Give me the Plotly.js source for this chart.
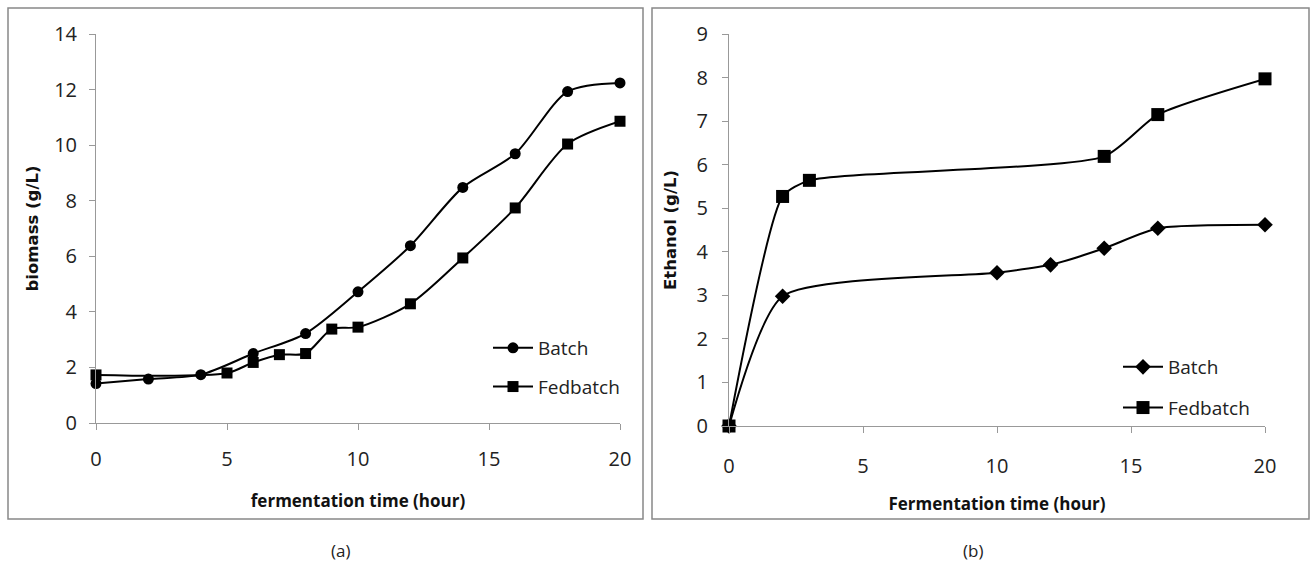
<!DOCTYPE html>
<html>
<head>
<meta charset="utf-8">
<script src="https://cdn.plot.ly/plotly-3.0.1.min.js"></script>
<style>
html,body{margin:0;padding:0;background:#fff;}
#chart{width:1311px;height:565px;}
</style>
</head>
<body>
<div id="chart"></div>
<script>
// Panel (a): biomass
const biomassBatchTime = [0, 2, 4, 6, 8, 10, 12, 14, 16, 18, 20];
const biomassBatch     = [1.42, 1.58, 1.74, 2.5, 3.22, 4.72, 6.38, 8.48, 9.69, 11.93, 12.24];
const biomassFedTime   = [0, 5, 6, 7, 8, 9, 10, 12, 14, 16, 18, 20];
const biomassFed       = [1.73, 1.8, 2.18, 2.46, 2.5, 3.38, 3.45, 4.29, 5.94, 7.74, 10.04, 10.86];
// Panel (b): ethanol
const ethanolBatchTime = [0, 2, 10, 12, 14, 16, 20];
const ethanolBatch     = [0, 2.98, 3.52, 3.70, 4.08, 4.54, 4.62];
const ethanolFedTime   = [0, 2, 3, 14, 16, 20];
const ethanolFed       = [0, 5.27, 5.64, 6.19, 7.15, 7.97];
const seriesNames = ["Batch", "Fedbatch"];
const xTicks = [0, 5, 10, 15, 20];
const yTicksA = [0, 2, 4, 6, 8, 10, 12, 14];
const yTicksB = [0, 1, 2, 3, 4, 5, 6, 7, 8, 9];

const W = 1311, H = 565;
const px = v => v / W;
const py = v => 1 - v / H;

const baseFamily = "Open Sans, Noto Sans, sans-serif";
const tickFont = {family: baseFamily, size: 20, color: "#222"};
const xTitleFont = {family: baseFamily, size: 17, color: "#111", weight: "bold"};
const yTitleFont = {family: "DejaVu Sans, Verdana, sans-serif", size: 16.5, color: "#111", weight: "bold"};
const lineA = {color: "#000", width: 2, shape: "spline", smoothing: 0.8};
const lineB = {color: "#000", width: 2, shape: "spline", smoothing: 0.6};

const traces = [
  {x: biomassBatchTime, y: biomassBatch, name: seriesNames[0], xaxis: "x", yaxis: "y", legend: "legend",
   mode: "lines+markers", line: lineA, marker: {symbol: "circle", size: 11, color: "#000"}, cliponaxis: false, legendgroup: "a1"},
  {x: biomassFedTime, y: biomassFed, name: seriesNames[1], xaxis: "x", yaxis: "y", legend: "legend",
   mode: "lines+markers", line: lineA, marker: {symbol: "square", size: 11, color: "#000"}, cliponaxis: false, legendgroup: "a2"},
  {x: ethanolBatchTime, y: ethanolBatch, name: seriesNames[0], xaxis: "x2", yaxis: "y2", legend: "legend2",
   mode: "lines+markers", line: lineB, marker: {symbol: "diamond", size: 12, color: "#000"}, cliponaxis: false, legendgroup: "b1"},
  {x: ethanolFedTime, y: ethanolFed, name: seriesNames[1], xaxis: "x2", yaxis: "y2", legend: "legend2",
   mode: "lines+markers", line: lineB, marker: {symbol: "square", size: 13, color: "#000"}, cliponaxis: false, legendgroup: "b2"}
];

function xAxis(domain, title, anchor, lblStandoff, titleStandoff) {
  return {
    domain: domain, range: [0, 20], anchor: anchor, tickvals: xTicks, ticks: "outside", ticklen: 6,
    tickcolor: "#999", showline: true, linecolor: "#999", linewidth: 1, showgrid: false, zeroline: false,
    tickfont: tickFont, ticklabelstandoff: lblStandoff,
    title: {text: title, font: xTitleFont, standoff: titleStandoff}, automargin: false, fixedrange: true
  };
}
function yAxis(domain, range, ticks, title, anchor, lblStandoff, titleStandoff) {
  return {
    domain: domain, range: range, anchor: anchor, tickvals: ticks, ticks: "outside", ticklen: 6,
    tickcolor: "#999", showline: true, linecolor: "#999", linewidth: 1, showgrid: false, zeroline: false,
    tickfont: tickFont, ticklabelstandoff: lblStandoff,
    title: {text: title, font: yTitleFont, standoff: titleStandoff}, automargin: false, fixedrange: true
  };
}

const legendFont = {family: baseFamily, size: 19, color: "#222"};

const layout = {
  width: W, height: H,
  margin: {l: 0, r: 0, t: 0, b: 0, autoexpand: false},
  paper_bgcolor: "#fff", plot_bgcolor: "#fff",
  xaxis: xAxis([px(96), px(620)], "fermentation time (hour)", "y", 12, 24),
  yaxis: yAxis([py(423), py(34)], [0, 14], yTicksA, "biomass (g/L)", "x", 8, 11),
  xaxis2: xAxis([px(729), px(1265)], "Fermentation time (hour)", "y2", 16, 20),
  yaxis2: yAxis([py(426), py(34)], [0, 9], yTicksB, "Ethanol (g/L)", "x2", 10, 15),
  legend: {x: px(488), y: py(329), xanchor: "left", yanchor: "top", font: legendFont,
           bgcolor: "rgba(0,0,0,0)", tracegroupgap: 11, traceorder: "grouped", itemwidth: 40},
  legend2: {x: px(1118), y: py(348), xanchor: "left", yanchor: "top", font: legendFont,
           bgcolor: "rgba(0,0,0,0)", tracegroupgap: 13, traceorder: "grouped", itemwidth: 40},
  shapes: [
    {type: "rect", xref: "paper", yref: "paper", x0: px(8), x1: px(643), y0: py(519), y1: py(8),
     line: {color: "#888", width: 1.5}},
    {type: "rect", xref: "paper", yref: "paper", x0: px(652), x1: px(1309), y0: py(519), y1: py(8),
     line: {color: "#888", width: 1.5}}
  ],
  annotations: [
    {text: "(a)", xref: "paper", yref: "paper", x: px(329), y: py(550), yanchor: "middle", showarrow: false,
     font: {family: baseFamily, size: 17, color: "#222"}},
    {text: "(b)", xref: "paper", yref: "paper", x: px(985), y: py(550), yanchor: "middle", showarrow: false,
     font: {family: baseFamily, size: 17, color: "#222"}}
  ]
};

Plotly.newPlot("chart", traces, layout, {displayModeBar: false, staticPlot: true});
</script>
</body>
</html>
